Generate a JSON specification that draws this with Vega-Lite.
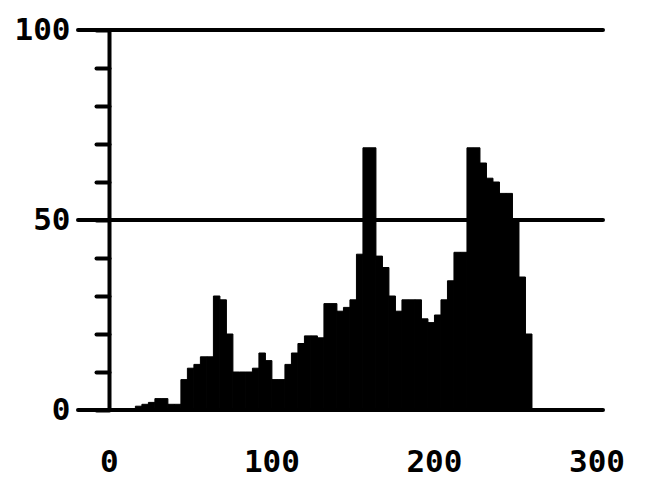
{
  "$schema": "https://vega.github.io/schema/vega-lite/v6.json",
  "autosize": "none",
  "width": 525,
  "height": 380,
  "padding": {"left": 78, "top": 30, "right": 45, "bottom": 72},
  "background": "white",
  "config": {
    "view": {"stroke": null},
    "axis": {
      "labelFont": "DejaVu Sans Mono",
      "labelFontWeight": "bold",
      "labelFontSize": 31,
      "labelColor": "black",
      "grid": false
    }
  },
  "resolve": {"axis": {"x": "independent", "y": "independent"}},
  "layer": [
    {
      "data": {"values": [{"level": 0}, {"level": 50}, {"level": 100}]},
      "mark": {"type": "rule", "color": "black", "strokeWidth": 4, "strokeCap": "round"},
      "encoding": {
        "y": {"field": "level", "type": "quantitative", "scale": {"domain": [0, 100], "nice": false, "zero": true}, "axis": null}
      }
    },
    {
      "data": {
        "values": [
          {"lo": 16, "hi": 20, "n": 1},
          {"lo": 20, "hi": 24, "n": 1.5},
          {"lo": 24, "hi": 28, "n": 2},
          {"lo": 28, "hi": 32, "n": 3},
          {"lo": 32, "hi": 36, "n": 3},
          {"lo": 36, "hi": 40, "n": 1.5},
          {"lo": 40, "hi": 44, "n": 1.5},
          {"lo": 44, "hi": 48, "n": 8},
          {"lo": 48, "hi": 52, "n": 11},
          {"lo": 52, "hi": 56, "n": 12},
          {"lo": 56, "hi": 60, "n": 14},
          {"lo": 60, "hi": 64, "n": 14},
          {"lo": 64, "hi": 68, "n": 30},
          {"lo": 68, "hi": 72, "n": 29},
          {"lo": 72, "hi": 76, "n": 20},
          {"lo": 76, "hi": 80, "n": 10},
          {"lo": 80, "hi": 84, "n": 10},
          {"lo": 84, "hi": 88, "n": 10},
          {"lo": 88, "hi": 92, "n": 11},
          {"lo": 92, "hi": 96, "n": 15},
          {"lo": 96, "hi": 100, "n": 13},
          {"lo": 100, "hi": 104, "n": 8},
          {"lo": 104, "hi": 108, "n": 8},
          {"lo": 108, "hi": 112, "n": 12},
          {"lo": 112, "hi": 116, "n": 15},
          {"lo": 116, "hi": 120, "n": 17.5},
          {"lo": 120, "hi": 124, "n": 19.5},
          {"lo": 124, "hi": 128, "n": 19.5},
          {"lo": 128, "hi": 132, "n": 19},
          {"lo": 132, "hi": 136, "n": 28},
          {"lo": 136, "hi": 140, "n": 28},
          {"lo": 140, "hi": 144, "n": 26},
          {"lo": 144, "hi": 148, "n": 27},
          {"lo": 148, "hi": 152, "n": 29},
          {"lo": 152, "hi": 156, "n": 41},
          {"lo": 156, "hi": 160, "n": 69},
          {"lo": 160, "hi": 164, "n": 69},
          {"lo": 164, "hi": 168, "n": 40.5},
          {"lo": 168, "hi": 172, "n": 37.5},
          {"lo": 172, "hi": 176, "n": 30},
          {"lo": 176, "hi": 180, "n": 26},
          {"lo": 180, "hi": 184, "n": 29},
          {"lo": 184, "hi": 188, "n": 29},
          {"lo": 188, "hi": 192, "n": 29},
          {"lo": 192, "hi": 196, "n": 24},
          {"lo": 196, "hi": 200, "n": 23},
          {"lo": 200, "hi": 204, "n": 25},
          {"lo": 204, "hi": 208, "n": 29},
          {"lo": 208, "hi": 212, "n": 34},
          {"lo": 212, "hi": 216, "n": 41.5},
          {"lo": 216, "hi": 220, "n": 41.5},
          {"lo": 220, "hi": 224, "n": 69},
          {"lo": 224, "hi": 228, "n": 69},
          {"lo": 228, "hi": 232, "n": 65},
          {"lo": 232, "hi": 236, "n": 61},
          {"lo": 236, "hi": 240, "n": 60},
          {"lo": 240, "hi": 244, "n": 57},
          {"lo": 244, "hi": 248, "n": 57},
          {"lo": 248, "hi": 252, "n": 50},
          {"lo": 252, "hi": 256, "n": 35},
          {"lo": 256, "hi": 260, "n": 20}
        ]
      },
      "mark": {"type": "bar", "color": "black", "stroke": "black", "strokeWidth": 1, "binSpacing": 0},
      "encoding": {
        "x": {
          "field": "lo", "type": "quantitative", "bin": "binned",
          "scale": {"domain": [-19, 304], "nice": false, "zero": false},
          "axis": {"title": null, "values": [0, 100, 200, 300], "ticks": false, "domain": false, "labelPadding": 37, "labelFlush": false}
        },
        "x2": {"field": "hi"},
        "y": {
          "field": "n", "type": "quantitative",
          "scale": {"domain": [0, 100], "nice": false, "zero": true},
          "axis": {
            "title": null,
            "values": [0, 10, 20, 30, 40, 50, 60, 70, 80, 90, 100],
            "offset": -31,
            "domainColor": "black", "domainWidth": 4,
            "tickColor": "black", "tickWidth": 4, "tickSize": 13, "tickCap": "round",
            "labelPadding": 26,
            "labelFlush": false,
            "labelExpr": "datum.value % 50 === 0 ? datum.label : ''"
          }
        }
      }
    }
  ]
}
